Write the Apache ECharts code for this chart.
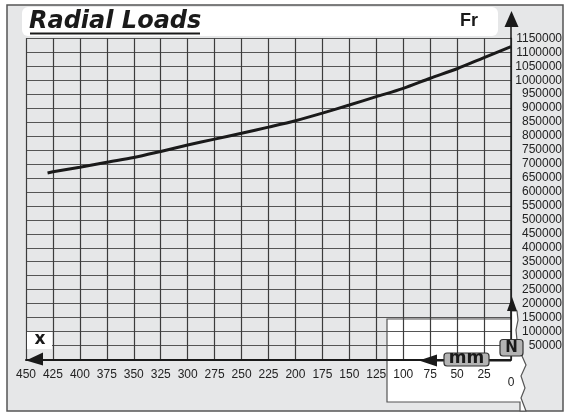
<!DOCTYPE html>
<html>
<head>
<meta charset="utf-8">
<script src="https://cdn.jsdelivr.net/npm/echarts@6/dist/echarts.min.js"></script>
<style>html,body{margin:0;padding:0;background:#fff}#main{width:573px;height:414px}</style>
</head>
<body>
<div id="main"></div>
<script>
// travel x (mm) and radial load Fr (N)
var xs = [430, 425, 400, 375, 350, 325, 300, 275, 250, 225, 200, 175, 150, 125, 100, 75, 50, 25, 0];
var fr = [668000, 672000, 688000, 706000, 723000, 745000, 768000, 789000, 810000, 832000, 855000, 882000, 911000, 941000, 971000, 1007000, 1041000, 1081000, 1120000];
var xTicks = [450, 425, 400, 375, 350, 325, 300, 275, 250, 225, 200, 175, 150, 125, 100, 75, 50, 25, 0];
var yTicks = [0, 50000, 100000, 150000, 200000, 250000, 300000, 350000, 400000, 450000, 500000, 550000, 600000, 650000, 700000, 750000, 800000, 850000, 900000, 950000, 1000000, 1050000, 1100000, 1150000];

var chart = echarts.init(document.getElementById('main'));
var G = {left: 26, right: 62, top: 38.3, bottom: 54.5};
var ax = 573 - G.right, ay = 414 - G.bottom;
var dark = '#1a1a1a';

var pts = [];
for (var i = 0; i < xs.length; i++) pts.push([xs[i], fr[i]]);

var option = {
  animation: false,
  grid: {left: G.left, right: G.right, top: G.top, bottom: G.bottom},
  xAxis: {
    type: 'value', inverse: true,
    min: Math.min.apply(null, xTicks), max: Math.max.apply(null, xTicks), interval: xTicks[0] - xTicks[1],
    axisLine: {show: true, lineStyle: {color: dark, width: 2}},
    axisTick: {show: false},
    axisLabel: {
      margin: 9, color: '#222', fontFamily: 'Liberation Sans', fontSize: 12,
      formatter: function (v) { return v === 0 ? '{z|0}' : '' + v; },
      rich: {z: {color: '#222', fontFamily: 'Liberation Sans', fontSize: 12, padding: [8, 0, 0, 0]}}
    },
    splitLine: {show: true, lineStyle: {color: '#3c3c3c', width: 1.2}}
  },
  yAxis: {
    type: 'value', position: 'right',
    min: yTicks[0], max: yTicks[yTicks.length - 1], interval: yTicks[1] - yTicks[0],
    axisLine: {show: true, onZero: false, lineStyle: {color: dark, width: 1.5}},
    axisTick: {show: false},
    axisLabel: {
      margin: 51, align: 'right', color: '#222', fontFamily: 'Liberation Sans', fontSize: 12,
      formatter: function (v) { return v === 0 ? '' : '' + v; }
    },
    splitLine: {show: true, lineStyle: {color: '#555', width: 1.2}}
  },
  series: [{
    type: 'line', data: pts, smooth: 0.3, showSymbol: false,
    lineStyle: {color: dark, width: 3}, z: 3
  }],
  graphic: [
    // frame + title strip
    {type: 'rect', z: -10, shape: {x: 7, y: 5, width: 556, height: 406}, style: {fill: '#e6e7e8', stroke: '#555', lineWidth: 1.5}},
    {type: 'rect', z: -9, shape: {x: 22, y: 7, width: 476, height: 29, r: 6}, style: {fill: '#fff'}},
    {type: 'text', z: 5, x: 29, y: 21.5, style: {text: 'Radial Loads', font: 'italic bold 24px "DejaVu Sans"', fill: dark, verticalAlign: 'middle'}},
    {type: 'line', z: 5, shape: {x1: 30, y1: 33.5, x2: 200, y2: 33.5}, style: {stroke: dark, lineWidth: 2}},
    {type: 'text', z: 5, x: 460, y: 21.5, style: {text: 'Fr', font: 'bold 18px "Liberation Sans"', fill: dark, verticalAlign: 'middle'}},
    // y axis arrow on top
    {type: 'line', z: 5, shape: {x1: ax, y1: 26, x2: ax, y2: G.top}, style: {stroke: dark, lineWidth: 1.5}},
    {type: 'polygon', z: 5, shape: {points: [[ax + 0.5, 11], [ax - 6.5, 27], [ax + 7.5, 27]]}, style: {fill: dark}},
    // x arrow + label on left
    {type: 'polygon', z: 5, shape: {points: [[26, ay + 1], [43, ay - 7], [43, ay + 6]]}, style: {fill: dark}},
    {type: 'rect', z: 5, shape: {x: 27, y: 332, width: 25, height: 17}, style: {fill: '#fff'}},
    {type: 'text', z: 6, x: 40, y: 340, style: {text: 'x', font: 'bold 17px "DejaVu Sans"', fill: dark, align: 'center', verticalAlign: 'middle'}},
    // inset (white cut-out) below the grid lines
    {type: 'polygon', z: -5, shape: {points: [[387, 319], [ax, 319], [ax, 311], [517, 311], [518, 320], [516, 330], [517, 340], [522, 356], [526, 365], [521, 376], [525, 388], [521, 398], [526, 411], [520, 411], [520, 402], [387, 402]]},
      style: {fill: '#fff', stroke: '#555', lineWidth: 1.2}},
    // mm arrow
    {type: 'polygon', z: 7, shape: {points: [[419, ay + 1], [437, ay - 5], [437, ay + 7]]}, style: {fill: dark}},
    {type: 'line', z: 7, shape: {x1: 436, y1: ay + 1, x2: ax, y2: ay + 1}, style: {stroke: dark, lineWidth: 2}},
    {type: 'rect', z: 8, shape: {x: 444, y: 353, width: 45, height: 13, r: 3}, style: {fill: '#b3b3b3', stroke: '#333', lineWidth: 1.2}},
    {type: 'text', z: 9, x: 466.5, y: 358.5, style: {text: 'mm', font: 'bold 17px "DejaVu Sans"', fill: dark, align: 'center', verticalAlign: 'middle'}},
    // N arrow
    {type: 'polygon', z: 7, shape: {points: [[ax + 1, 297], [ax - 4, 311], [ax + 6, 311]]}, style: {fill: dark}},
    {type: 'rect', z: 8, shape: {x: 500, y: 339.5, width: 23, height: 16.5, r: 3}, style: {fill: '#b3b3b3', stroke: '#333', lineWidth: 1.2}},
    {type: 'text', z: 9, x: 511.5, y: 348, style: {text: 'N', font: 'bold 15px "DejaVu Sans"', fill: dark, align: 'center', verticalAlign: 'middle'}}
  ]
};
chart.setOption(option);
</script>
</body>
</html>
